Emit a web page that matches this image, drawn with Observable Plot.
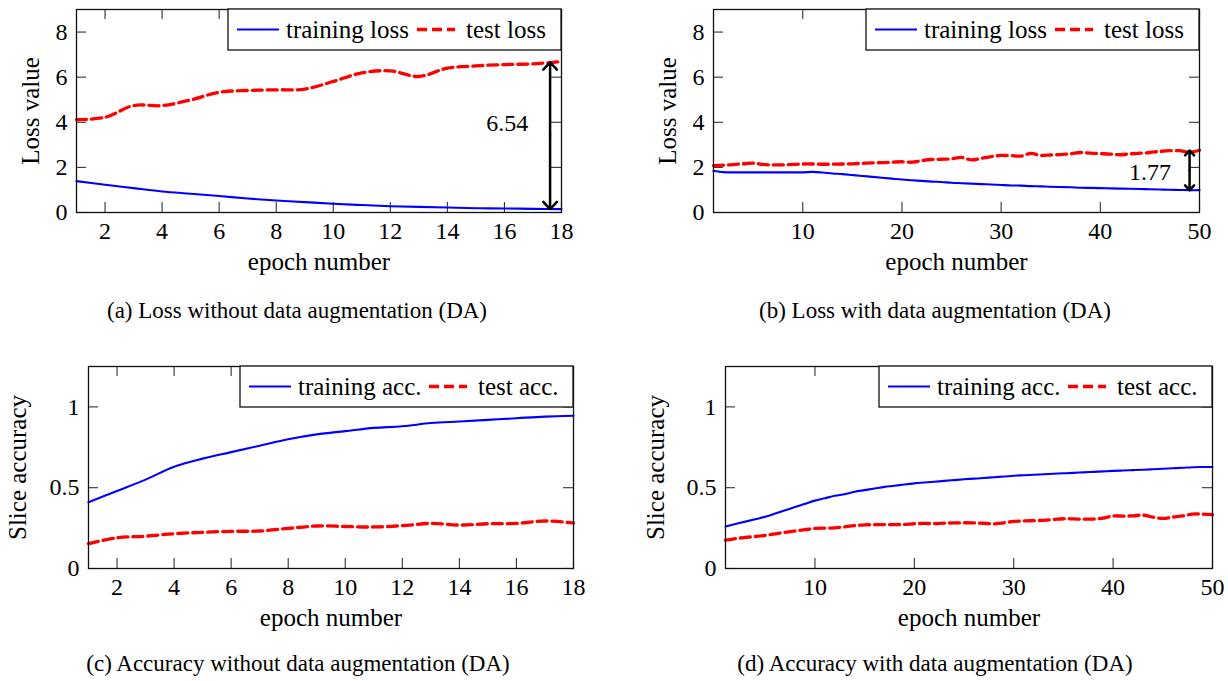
<!DOCTYPE html>
<html>
<head>
<meta charset="utf-8">
<script src="https://cdn.jsdelivr.net/npm/d3@7"></script>
<script src="https://cdn.jsdelivr.net/npm/@observablehq/plot@0.6"></script>
<style>
  body { margin: 0; background: #fff; }
  #fig { position: relative; width: 1228px; height: 681px; background: #fff; overflow: hidden;
         font-family: "Liberation Serif", "Times New Roman", serif; }
  .panel { position: absolute; }
  .cap { position: absolute; width: 640px; text-align: center; font-size: 23px; line-height: 1; color: #000;
         font-family: "Liberation Serif", "Times New Roman", serif; white-space: nowrap; }
</style>
</head>
<body>
<div id="fig"></div>
<script>
// ---------------- data ----------------
const epochs18 = [1,2,3,4,5,6,7,8,9,10,11,12,13,14,15,16,17,18];
const epochs50 = d3.range(1, 51);

const aTrainLoss = [1.39, 1.23, 1.08, 0.93, 0.83, 0.73, 0.62, 0.53, 0.46, 0.39, 0.33, 0.28, 0.25, 0.22, 0.19, 0.18, 0.16, 0.15];
const aTestLoss  = [4.12, 4.22, 4.74, 4.74, 4.99, 5.33, 5.41, 5.44, 5.47, 5.81, 6.19, 6.28, 6.03, 6.40, 6.50, 6.56, 6.59, 6.69];

const bTrainLoss = [1.85, 1.79, 1.78, 1.78, 1.78, 1.78, 1.78, 1.78, 1.78, 1.78,
                    1.80, 1.77, 1.73, 1.70, 1.66, 1.62, 1.58, 1.54, 1.50, 1.46,
                    1.43, 1.40, 1.37, 1.35, 1.32, 1.30, 1.28, 1.26, 1.24, 1.22,
                    1.20, 1.19, 1.17, 1.16, 1.14, 1.13, 1.12, 1.10, 1.09, 1.08,
                    1.07, 1.06, 1.05, 1.04, 1.03, 1.02, 1.01, 1.00, 0.99, 0.99];
const bTestLoss  = [2.08, 2.10, 2.12, 2.16, 2.19, 2.13, 2.11, 2.11, 2.13, 2.15,
                    2.15, 2.14, 2.14, 2.15, 2.16, 2.18, 2.20, 2.21, 2.23, 2.25,
                    2.23, 2.30, 2.35, 2.36, 2.38, 2.44, 2.33, 2.40, 2.48, 2.53,
                    2.52, 2.50, 2.62, 2.53, 2.55, 2.57, 2.60, 2.66, 2.63, 2.61,
                    2.59, 2.56, 2.60, 2.63, 2.66, 2.71, 2.74, 2.74, 2.67, 2.76];

const cTrainAcc = [0.41, 0.48, 0.55, 0.63, 0.68, 0.72, 0.76, 0.80, 0.83, 0.85, 0.87, 0.88, 0.90, 0.91, 0.92, 0.93, 0.94, 0.945];
const cTestAcc  = [0.154, 0.19, 0.20, 0.215, 0.224, 0.23, 0.232, 0.248, 0.263, 0.26, 0.257, 0.265, 0.279, 0.269, 0.277, 0.279, 0.294, 0.281];

const dTrainAcc = [0.260, 0.275, 0.290, 0.305, 0.320, 0.340, 0.360, 0.380, 0.400, 0.420,
                   0.435, 0.450, 0.460, 0.475, 0.485, 0.495, 0.505, 0.512, 0.520, 0.527,
                   0.532, 0.537, 0.542, 0.547, 0.552, 0.556, 0.560, 0.565, 0.569, 0.574,
                   0.577, 0.580, 0.583, 0.586, 0.589, 0.592, 0.595, 0.598, 0.601, 0.604,
                   0.606, 0.609, 0.611, 0.614, 0.617, 0.620, 0.623, 0.627, 0.628, 0.628];
const dTestAcc  = [0.175, 0.185, 0.192, 0.198, 0.205, 0.215, 0.224, 0.232, 0.240, 0.248,
                   0.250, 0.251, 0.258, 0.265, 0.270, 0.271, 0.272, 0.272, 0.273, 0.277,
                   0.279, 0.278, 0.281, 0.282, 0.283, 0.282, 0.280, 0.276, 0.283, 0.291,
                   0.294, 0.296, 0.298, 0.303, 0.308, 0.307, 0.305, 0.306, 0.312, 0.325,
                   0.324, 0.326, 0.330, 0.318, 0.310, 0.318, 0.325, 0.337, 0.336, 0.333];

const ticks18 = [2, 4, 6, 8, 10, 12, 14, 16, 18];
const ticks50 = [10, 20, 30, 40, 50];
const lossTicks = [0, 2, 4, 6, 8];
const accTicks = [0, 0.5, 1];

const lossLegend = ["training loss", "test loss"];
const accLegend = ["training acc.", "test acc."];

const annoA = [{x: 17.6, lo: 0.15, hi: 6.66, label: "6.54", lx: 16.1, ly: 3.97}];
const annoB = [{x: 49.0, lo: 0.99, hi: 2.75, label: "1.77", lx: 45.0, ly: 1.76}];

const captions = [
  "(a) Loss without data augmentation (DA)",
  "(b) Loss with data augmentation (DA)",
  "(c) Accuracy without data augmentation (DA)",
  "(d) Accuracy with data augmentation (DA)"
];

// ---------------- drawing ----------------
const FONT = "Liberation Serif, Times New Roman, serif";
const FS = 24;
const BLUE = "#0000ff", RED = "#ff0000";
const fig = document.getElementById("fig");

function panel(cfg) {
  const {left, top, width, height, ml, mr, mt, mb, xs, train, test, xDomain, xTicks,
         yDomain, yTicks, yLabel, yLabelDx, legend, anno} = cfg;
  const pw = width - ml - mr, ph = height - mt - mb, T = 10;
  const trainData = train.map((v, i) => ({epoch: xs[i], v}));
  const testData = test.map((v, i) => ({epoch: xs[i], v}));
  const marks = [
    Plot.ruleX(xTicks, {x: d => d, insetTop: ph - T, stroke: "#333", strokeWidth: 1.1}),
    Plot.ruleX(xTicks, {x: d => d, insetBottom: ph - T, stroke: "#333", strokeWidth: 1.1}),
    Plot.ruleY(yTicks, {y: d => d, insetRight: pw - T, stroke: "#333", strokeWidth: 1.1}),
    Plot.ruleY(yTicks, {y: d => d, insetLeft: pw - T, stroke: "#333", strokeWidth: 1.1}),
    Plot.line(trainData, {x: "epoch", y: "v", stroke: BLUE, strokeWidth: 2.1, curve: "catmull-rom"}),
    Plot.line(testData, {x: "epoch", y: "v", stroke: RED, strokeWidth: 3.3, strokeDasharray: "10,5", curve: "catmull-rom"}),
    Plot.frame({stroke: "#111", strokeWidth: 1.3}),
    Plot.axisX({ticks: xTicks, tickSize: 0, tickPadding: 9, label: null, fontSize: FS, fontFamily: FONT, tickFormat: d => String(d)}),
    Plot.axisY({ticks: yTicks, tickSize: 0, tickPadding: 9, label: null, fontSize: FS, fontFamily: FONT, tickFormat: d => String(d)}),
    Plot.text(["epoch number"], {text: d => d, frameAnchor: "bottom", textAnchor: "middle", dy: 57, fontSize: 25, fontFamily: FONT, fill: "#000"}),
    Plot.text([yLabel], {text: d => d, frameAnchor: "left", textAnchor: "middle", rotate: -90, dx: yLabelDx, fontSize: 25, fontFamily: FONT, fill: "#000"})
  ];
  if (anno) {
    const arrows = anno.flatMap(a => [
      {x: a.x, y1: (a.lo + a.hi) / 2, y2: a.hi},
      {x: a.x, y1: (a.lo + a.hi) / 2, y2: a.lo}
    ]);
    marks.push(Plot.arrow(arrows, {x1: "x", x2: "x", y1: "y1", y2: "y2", stroke: "#000", strokeWidth: 2.5, headLength: 6, headAngle: 86}));
    marks.push(Plot.text(anno, {x: "lx", y: "ly", text: "label", textAnchor: "middle", fontSize: FS, fontFamily: FONT, fill: "#000"}));
  }
  const svg = Plot.plot({
    width, height, marginLeft: ml, marginRight: mr, marginTop: mt, marginBottom: mb,
    style: {fontFamily: FONT, fontSize: FS + "px", background: "transparent", color: "#000", overflow: "visible"},
    x: {type: "linear", domain: xDomain},
    y: {type: "linear", domain: yDomain},
    marks
  });
  // legend box (north-east, inside frame)
  const R = width - mr, Tp = mt;
  const g = d3.select(svg).append("g").attr("text-anchor", "start");
  g.append("rect").attr("x", R - 333).attr("y", Tp).attr("width", 333).attr("height", 41)
    .attr("fill", "#fff").attr("stroke", "#111").attr("stroke-width", 1.3);
  const cy = Tp + 20.5;
  g.append("line").attr("x1", R - 324).attr("x2", R - 282).attr("y1", cy).attr("y2", cy)
    .attr("stroke", BLUE).attr("stroke-width", 2.1);
  g.append("text").attr("x", R - 275).attr("y", cy + 8).attr("text-anchor", "start").text(legend[0])
    .attr("font-family", FONT).attr("font-size", 25).attr("fill", "#000");
  g.append("line").attr("x1", R - 144).attr("x2", R - 106).attr("y1", cy).attr("y2", cy)
    .attr("stroke", RED).attr("stroke-width", 3.3).attr("stroke-dasharray", "10,5");
  g.append("text").attr("x", R - 95).attr("y", cy + 8).attr("text-anchor", "start").text(legend[1])
    .attr("font-family", FONT).attr("font-size", 25).attr("fill", "#000");
  svg.classList.add("panel");
  svg.style.left = left + "px";
  svg.style.top = top + "px";
  svg.style.position = "absolute";
  svg.style.maxWidth = "none";
  fig.appendChild(svg);
}

panel({left: 0, top: 0, width: 600, height: 300, ml: 76, mr: 39, mt: 9, mb: 88,
  xs: epochs18, train: aTrainLoss, test: aTestLoss, xDomain: [1, 18], xTicks: ticks18,
  yDomain: [0, 9], yTicks: lossTicks, yLabel: "Loss value", yLabelDx: -46, legend: lossLegend, anno: annoA});
panel({left: 620, top: 0, width: 600, height: 300, ml: 93, mr: 21, mt: 9, mb: 88,
  xs: epochs50, train: bTrainLoss, test: bTestLoss, xDomain: [1, 50], xTicks: ticks50,
  yDomain: [0, 9], yTicks: lossTicks, yLabel: "Loss value", yLabelDx: -46, legend: lossLegend, anno: annoB});
panel({left: 0, top: 355, width: 600, height: 300, ml: 88, mr: 27, mt: 11, mb: 87,
  xs: epochs18, train: cTrainAcc, test: cTestAcc, xDomain: [1, 18], xTicks: ticks18,
  yDomain: [0, 1.25], yTicks: accTicks, yLabel: "Slice accuracy", yLabelDx: -71, legend: accLegend});
panel({left: 620, top: 355, width: 608, height: 300, ml: 105, mr: 16, mt: 11, mb: 87,
  xs: epochs50, train: dTrainAcc, test: dTestAcc, xDomain: [1, 50], xTicks: ticks50,
  yDomain: [0, 1.25], yTicks: accTicks, yLabel: "Slice accuracy", yLabelDx: -70, legend: accLegend});

const capPos = [[297, 311], [935, 311], [298, 664], [935, 664]];
captions.forEach((c, i) => {
  const d = document.createElement("div");
  d.className = "cap";
  d.textContent = c;
  d.style.left = (capPos[i][0] - 320) + "px";
  d.style.top = (capPos[i][1] - 12) + "px";
  fig.appendChild(d);
});
</script>
</body>
</html>
